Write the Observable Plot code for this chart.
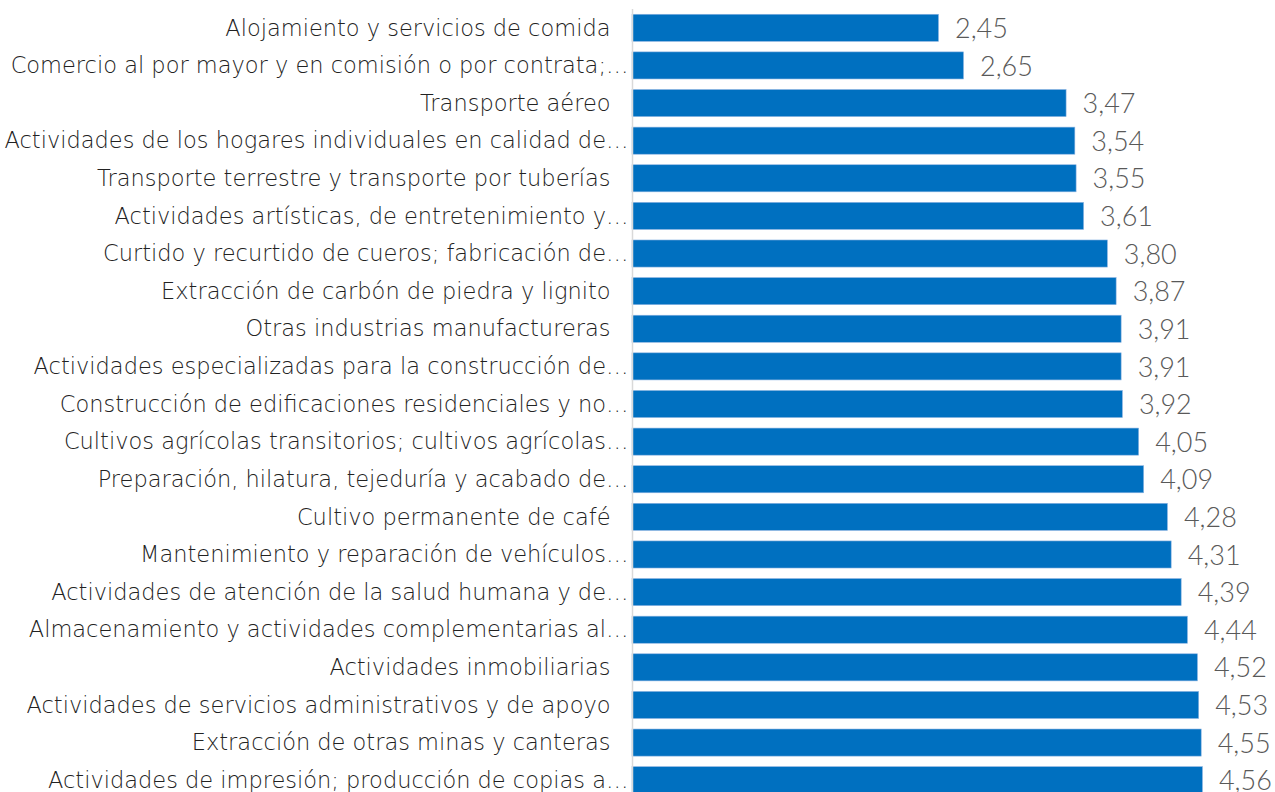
<!DOCTYPE html>
<html>
<head>
<meta charset="utf-8">
<script src="https://cdn.jsdelivr.net/npm/d3@7"></script>
<script src="https://cdn.jsdelivr.net/npm/@observablehq/plot@0.6"></script>
<style>
  html, body { margin: 0; padding: 0; background: #fff; overflow: hidden; }
</style>
</head>
<body>
<div id="chart"></div>
<script>
const categories = [
  "Alojamiento y servicios de comida",
  "Comercio al por mayor y en comisión o por contrata;…",
  "Transporte aéreo",
  "Actividades de los hogares individuales en calidad de…",
  "Transporte terrestre y transporte por tuberías",
  "Actividades artísticas, de entretenimiento y…",
  "Curtido y recurtido de cueros; fabricación de…",
  "Extracción de carbón de piedra y lignito",
  "Otras industrias manufactureras",
  "Actividades especializadas para la construcción de…",
  "Construcción de edificaciones residenciales y no…",
  "Cultivos agrícolas transitorios; cultivos agrícolas…",
  "Preparación, hilatura, tejeduría y acabado de…",
  "Cultivo permanente de café",
  "Mantenimiento y reparación de vehículos…",
  "Actividades de atención de la salud humana y de…",
  "Almacenamiento y actividades complementarias al…",
  "Actividades inmobiliarias",
  "Actividades de servicios administrativos y de apoyo",
  "Extracción de otras minas y canteras",
  "Actividades de impresión; producción de copias a…"
];
const values = [2.45, 2.65, 3.47, 3.54, 3.55, 3.61, 3.80, 3.87, 3.91, 3.91, 3.92, 4.05, 4.09, 4.28, 4.31, 4.39, 4.44, 4.52, 4.53, 4.55, 4.56];

const data = categories.map((c, i) => ({cat: c, value: values[i]}));
const fmt = v => v.toFixed(2).replace(".", ",");
const truncated = data.filter(d => d.cat.endsWith("…"));
const full = data.filter(d => !d.cat.endsWith("…"));
const labelFont = "'DejaVu Sans', sans-serif";

const chart = Plot.plot({
  width: 1275,
  height: 810,
  marginTop: 9,
  marginBottom: 11,
  marginLeft: 632,
  marginRight: 0,
  style: {fontFamily: labelFont},
  x: {domain: [0, 5.14], axis: null},
  y: {domain: categories, paddingInner: 0.28, paddingOuter: 0.14, round: false, axis: null},
  marks: [
    Plot.barX(data, {x: "value", y: "cat", fill: "#0070C0", stroke: "#8DB4E2", strokeWidth: 0.6}),
    Plot.ruleX([0], {stroke: "#d9d9d9", strokeWidth: 1.5}),
    Plot.text(full, {x: 0, y: "cat", text: "cat", textAnchor: "end", dx: -22, fontSize: 22.5, fill: "#222", fontWeight: 200, fontFamily: labelFont}),
    Plot.text(truncated, {x: 0, y: "cat", text: "cat", textAnchor: "end", dx: -4, fontSize: 22.5, fill: "#222", fontWeight: 200, fontFamily: labelFont}),
    Plot.text(data, {x: "value", y: "cat", text: d => fmt(d.value), textAnchor: "start", dx: 16, dy: 1, fontSize: 27, fill: "#595959", fontWeight: 300, fontFamily: "Lato, sans-serif"})
  ]
});
document.getElementById("chart").appendChild(chart);
</script>
</body>
</html>
